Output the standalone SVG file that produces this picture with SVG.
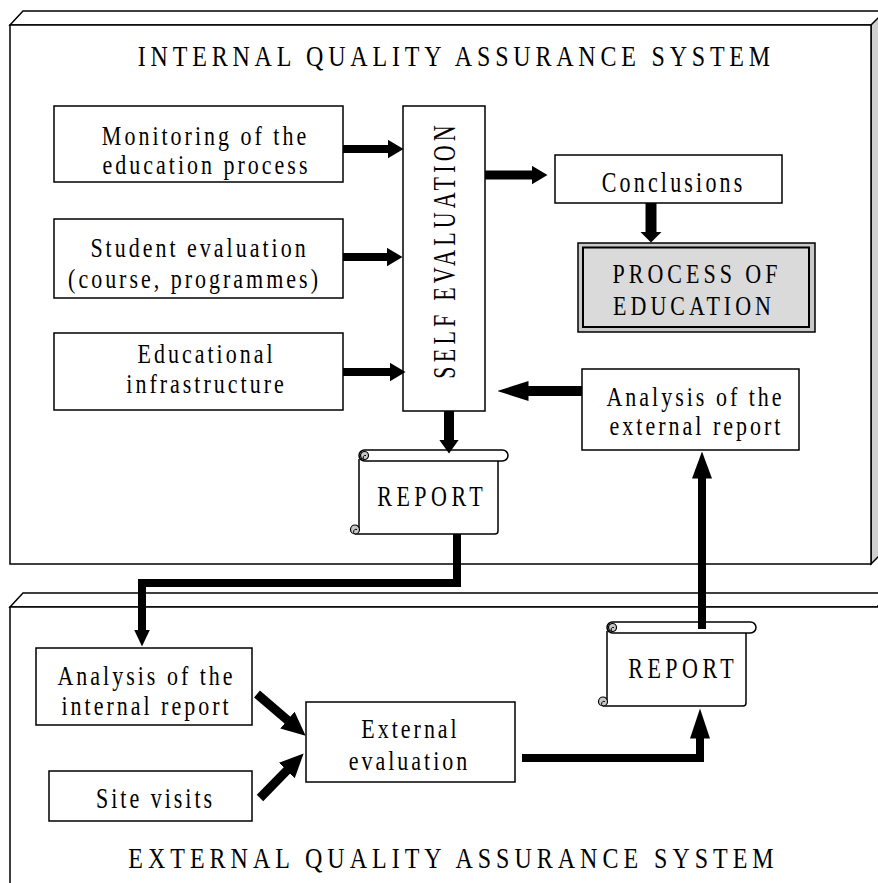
<svg xmlns="http://www.w3.org/2000/svg" xmlns:xlink="http://www.w3.org/1999/xlink" width="878" height="883" viewBox="0 0 878 883">
<style>
.frame{fill:#fff;stroke:#000;stroke-width:1.5}
.side{fill:#d0d0d0;stroke:#000;stroke-width:1.5}
.box{fill:#fff;stroke:#000;stroke-width:1.5}
.t{font-family:"Liberation Serif","Times New Roman",serif;font-size:22px;fill:#000;text-anchor:middle;letter-spacing:3px}
.c{letter-spacing:4px}
.ttl{font-size:24px;letter-spacing:4.8px}
.con{fill:none;stroke:#000;stroke-linejoin:miter;stroke-linecap:butt}
.curl{fill:#c8c8c8;stroke:#000;stroke-width:1.2}
</style>
<defs>
<marker id="hA" markerUnits="userSpaceOnUse" markerWidth="16" markerHeight="19" viewBox="0 0 16 19" refX="0.5" refY="9.5" orient="auto"><path d="M0,0 L16,9.5 L0,19 Z" fill="#000"/></marker>
<marker id="hB" markerUnits="userSpaceOnUse" markerWidth="11" markerHeight="22" viewBox="0 0 11 22" refX="0.5" refY="11" orient="auto"><path d="M0,0 L11,11 L0,22 Z" fill="#000"/></marker>
<marker id="hC" markerUnits="userSpaceOnUse" markerWidth="31" markerHeight="20" viewBox="0 0 31 20" refX="0.5" refY="10" orient="auto"><path d="M0,0 L31,10 L0,20 Z" fill="#000"/></marker>
<marker id="hD" markerUnits="userSpaceOnUse" markerWidth="14" markerHeight="20" viewBox="0 0 14 20" refX="0.5" refY="10" orient="auto"><path d="M0,0 L14,10 L0,20 Z" fill="#000"/></marker>
<marker id="hE" markerUnits="userSpaceOnUse" markerWidth="17" markerHeight="16" viewBox="0 0 17 16" refX="0.5" refY="8" orient="auto"><path d="M0,0 L17,8 L0,16 Z" fill="#000"/></marker>
<marker id="hF" markerUnits="userSpaceOnUse" markerWidth="24" markerHeight="22" viewBox="0 0 24 22" refX="0.5" refY="11" orient="auto"><path d="M0,0 L24,11 L0,22 Z" fill="#000"/></marker>
<marker id="hG" markerUnits="userSpaceOnUse" markerWidth="30" markerHeight="20" viewBox="0 0 30 20" refX="0.5" refY="10" orient="auto"><path d="M0,0 L30,10 L0,20 Z" fill="#000"/></marker>
<marker id="hH" markerUnits="userSpaceOnUse" markerWidth="27" markerHeight="20" viewBox="0 0 27 20" refX="0.5" refY="10" orient="auto"><path d="M0,0 L27,10 L0,20 Z" fill="#000"/></marker>
<g id="scroll">
<rect x="0" y="11" width="139" height="73" fill="#fff"/>
<rect x="0" y="0" width="149" height="11" rx="5.5" ry="5.5" fill="#fff" stroke="#000" stroke-width="1.5"/>
<path d="M0,9 V78 M-4,84 H136 Q139,84 139,81 V11" fill="none" stroke="#000" stroke-width="1.5"/>
<circle cx="5.5" cy="5.5" r="4" class="curl"/>
<path d="M5.5,9.5 A2,2 0 1 1 7,5.5" fill="none" stroke="#000" stroke-width="1"/>
<circle cx="-4" cy="79.5" r="4.5" class="curl"/>
<path d="M-4,84 A2.2,2.2 0 1 1 -2,79.5" fill="none" stroke="#000" stroke-width="1"/>
</g>
</defs>

<g id="internal-system">
<polygon class="frame" points="10,25 23,11 890,11 877,25"/>
<polygon class="side" points="871,25 885,11 885,550 871,564"/>
<rect class="frame" x="10" y="25" width="861" height="539"/>
<text class="t ttl" transform="translate(454,66) scale(1,1.25)" x="2.4">INTERNAL QUALITY ASSURANCE SYSTEM</text>
</g>

<g id="external-system">
<polygon class="frame" points="10,607 23,593 890,593 877,607"/>
<rect class="frame" x="10" y="607" width="880" height="290"/>
<text class="t ttl" transform="translate(451,868) scale(1,1.25)" x="2.5" style="letter-spacing:5px">EXTERNAL QUALITY ASSURANCE SYSTEM</text>
</g>

<g id="monitoring">
<rect class="box" x="54" y="106" width="289" height="76"/>
<text class="t" transform="translate(204,145) scale(1,1.2)" x="1.5">Monitoring of the</text>
<text class="t" transform="translate(205,174) scale(1,1.2)" x="1.5">education process</text>
</g>

<g id="student-evaluation">
<rect class="box" x="54" y="219" width="289" height="79"/>
<text class="t" transform="translate(198,257) scale(1,1.2)" x="1.5">Student evaluation</text>
<text class="t" transform="translate(193,288) scale(1,1.2)" x="1.5">(course, programmes)</text>
</g>

<g id="infrastructure">
<rect class="box" x="54" y="333" width="289" height="77"/>
<text class="t" transform="translate(205,363) scale(1,1.2)" x="1.5">Educational</text>
<text class="t" transform="translate(205,393) scale(1,1.2)" x="1.5">infrastructure</text>
</g>

<g id="self-evaluation">
<rect class="box" x="403" y="106" width="82" height="305"/>
<text class="t" transform="translate(455,252) rotate(-90) scale(1,1.45)" x="2.1" style="letter-spacing:4.2px">SELF EVALUATION</text>
</g>

<g id="conclusions">
<rect class="box" x="555" y="155" width="227" height="48"/>
<text class="t" transform="translate(672,192) scale(1,1.3)" x="1.6" style="letter-spacing:3.2px">Conclusions</text>
</g>

<g id="process-of-education">
<rect x="578" y="243" width="237" height="89" fill="#c8c8c8" stroke="#000" stroke-width="1.5"/>
<rect x="583" y="247.5" width="226" height="79.5" fill="#dadada" stroke="#000" stroke-width="2"/>
<text class="t c" transform="translate(695,283) scale(1,1.2)" x="2">PROCESS OF</text>
<text class="t c" transform="translate(692,315) scale(1,1.2)" x="2">EDUCATION</text>
</g>

<g id="analysis-external">
<rect class="box" x="582" y="369" width="217" height="81"/>
<text class="t" transform="translate(694,406) scale(1,1.2)" x="1.5">Analysis of the</text>
<text class="t" transform="translate(695,435) scale(1,1.2)" x="1.5">external report</text>
</g>

<g id="report-internal">
<use xlink:href="#scroll" x="359" y="450"/>
<text class="t" transform="translate(430,506) scale(1,1.3)" x="2.25" style="letter-spacing:4.5px">REPORT</text>
</g>

<g id="analysis-internal">
<rect class="box" x="36" y="648" width="216" height="77"/>
<text class="t" transform="translate(145,685) scale(1,1.2)" x="1.5">Analysis of the</text>
<text class="t" transform="translate(145,715) scale(1,1.2)" x="1.5">internal report</text>
</g>

<g id="site-visits">
<rect class="box" x="49" y="771" width="203" height="50"/>
<text class="t" transform="translate(154,808) scale(1,1.3)" x="1.5">Site visits</text>
</g>

<g id="external-evaluation">
<rect class="box" x="306" y="702" width="209" height="80"/>
<text class="t" transform="translate(409,738) scale(1,1.2)" x="1.5">External</text>
<text class="t" transform="translate(408,770) scale(1,1.2)" x="1.5">evaluation</text>
</g>

<g id="report-external">
<use xlink:href="#scroll" x="607" y="622"/>
<text class="t" transform="translate(681,678) scale(1,1.3)" x="2.25" style="letter-spacing:4.5px">REPORT</text>
</g>

<g id="connectors">
<path class="con" d="M343,149 H388" stroke-width="8" marker-end="url(#hA)"/>
<path class="con" d="M343,257 H387" stroke-width="8" marker-end="url(#hA)"/>
<path class="con" d="M343,372 H390" stroke-width="8" marker-end="url(#hA)"/>
<path class="con" d="M485,175 H532" stroke-width="9" marker-end="url(#hA)"/>
<path class="con" d="M651,203 V232" stroke-width="11" marker-end="url(#hB)"/>
<path class="con" d="M582,391 H528" stroke-width="10" marker-end="url(#hC)"/>
<path class="con" d="M449,411 V440" stroke-width="10" marker-end="url(#hD)"/>
<path class="con" d="M457,534 V583 H142 V630" stroke-width="8" marker-end="url(#hE)"/>
<path class="con" d="M257,694 L287.8,720.4" stroke-width="9" marker-end="url(#hF)"/>
<path class="con" d="M260,798 L287.2,770.2" stroke-width="9" marker-end="url(#hF)"/>
<path class="con" d="M522,758 H700 V738" stroke-width="8" marker-end="url(#hG)"/>
<path class="con" d="M702,629 V478" stroke-width="8" marker-end="url(#hH)"/>
</g>
</svg>
